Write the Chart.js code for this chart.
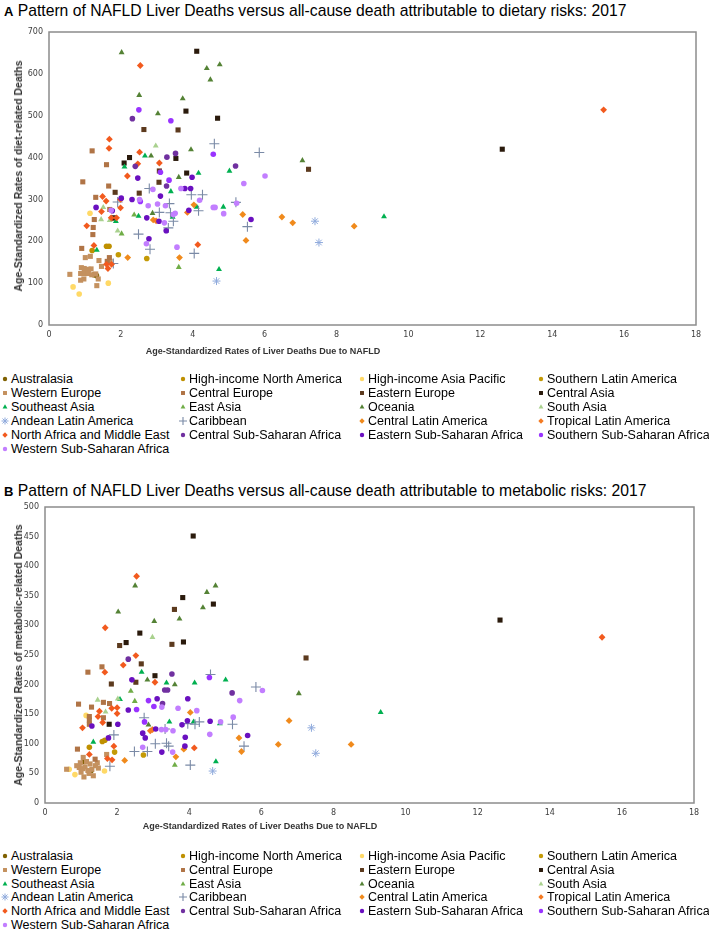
<!DOCTYPE html>
<html><head><meta charset="utf-8">
<script src="https://cdn.jsdelivr.net/npm/chart.js@4/dist/chart.umd.min.js"></script>
<style>
html,body{margin:0;padding:0;background:#fff;}
body{width:709px;height:930px;position:relative;overflow:hidden;font-family:'Liberation Sans',Arial,sans-serif;color:#000;}
.title{position:absolute;left:4px;font-size:15.7px;white-space:nowrap;line-height:18px;}
.title b{font-size:13px;}
.wrap{position:absolute;left:0;width:709px;}
.xt{position:absolute;font-size:9px;font-weight:bold;color:#333;white-space:nowrap;transform:translate(-50%,-50%);}
.yt{position:absolute;font-size:10.5px;font-weight:bold;color:#333;white-space:nowrap;transform:translate(-50%,-50%) rotate(-90deg);}
.li{position:absolute;font-size:12.5px;white-space:nowrap;display:flex;align-items:center;height:14px;line-height:14px;}
.li canvas{margin-right:1px;}
</style></head>
<body>
<div class="title" id="titleA" style="top:2px"><b>A</b> Pattern of NAFLD Liver Deaths versus all-cause death attributable to dietary risks: 2017</div>
<div class="wrap" style="top:0;height:365px"><canvas id="chartA" width="709" height="365"></canvas></div>
<div class="xt" style="left:263px;top:351px">Age-Standardized Rates of Liver Deaths Due to NAFLD</div>
<div class="yt" style="left:18px;top:176px">Age-Standardized Rates of diet-related Deaths</div>
<div id="legendA"></div>

<div class="title" id="titleB" style="top:482px"><b>B</b> Pattern of NAFLD Liver Deaths versus all-cause death attributable to metabolic risks: 2017</div>
<div class="wrap" style="top:470px;height:370px"><canvas id="chartB" width="709" height="370"></canvas></div>
<div class="xt" style="left:260px;top:826px">Age-Standardized Rates of Liver Deaths Due to NAFLD</div>
<div class="yt" style="left:18px;top:655px">Age-Standardized Rates of metabolic-related Deaths</div>
<div id="legendB"></div>

<script>
// ---------------- DATA ----------------
const regions = [
  "Australasia","High-income North America","High-income Asia Pacific","Southern Latin America",
  "Western Europe","Central Europe","Eastern Europe","Central Asia",
  "Southeast Asia","East Asia","Oceania","South Asia",
  "Andean Latin America","Caribbean","Central Latin America","Tropical Latin America",
  "North Africa and Middle East","Central Sub-Saharan Africa","Eastern Sub-Saharan Africa","Southern Sub-Saharan Africa",
  "Western Sub-Saharan Africa"
];

const xTicks = [0,2,4,6,8,10,12,14,16,18];
const dietYTicks = [0,100,200,300,400,500,600,700];
const metabolicYTicks = [0,50,100,150,200,250,300,350,400,450,500];

// [NAFLD liver death rate, diet-related death rate] per country, by region
const dietPoints = [
  [[1.32,118],[1.25,120]],
  [[1.20,178],[1.60,188],[1.67,188]],
  [[0.67,91],[0.84,74],[1.14,267],[1.65,100]],
  [[1.93,168],[2.72,159]],
  [[1.01,161],[1.15,164],[1.39,154],[1.70,152],[1.46,140],[0.58,121],[0.90,137],[0.98,135],[1.10,133],[1.17,134],[0.88,123],[1.00,123],[1.09,123],[1.19,120],[1.30,122],[0.88,107],[1.37,110],[1.33,94],[0.97,110]],
  [[1.20,416],[1.60,383],[0.94,342],[1.66,332],[1.30,305],[1.69,276],[1.76,255],[1.26,252],[1.23,233],[1.22,216],[0.91,183],[1.68,161],[1.62,152]],
  [[2.64,467],[3.59,466],[3.07,368],[3.06,341],[2.51,315],[1.84,317],[7.22,372]],
  [[4.11,654],[3.81,511],[4.69,494],[2.24,400],[2.09,387],[3.53,398],[3.83,363],[1.79,256],[12.61,420]],
  [[2.10,378],[2.67,404],[4.16,363],[3.39,319],[5.02,368],[4.85,282],[4.11,282],[2.49,260],[3.44,258],[4.73,133],[1.86,248],[1.33,179],[9.32,259]],
  [[2.37,263],[3.61,138],[2.02,218]],
  [[2.02,651],[2.51,549],[3.03,505],[3.72,541],[3.95,419],[4.39,613],[4.49,586],[4.75,622],[2.88,267],[2.84,404],[3.61,353],[7.05,393]],
  [[2.97,428],[1.51,281],[1.45,252],[1.69,250],[1.91,225]],
  [[4.66,105],[7.40,248],[7.51,197]],
  [[4.60,433],[5.85,412],[2.79,326],[3.96,311],[4.27,311],[1.91,294],[3.07,269],[3.35,290],[3.38,268],[4.16,273],[3.46,248],[3.32,232],[2.49,217],[2.81,181],[4.04,171],[5.20,293],[5.52,235],[1.79,147]],
  [[5.39,264],[5.48,202],[6.48,258],[6.78,244],[8.49,236],[3.63,161],[2.19,161],[4.03,287],[2.90,251]],
  [[2.98,249],[3.85,269]],
  [[2.54,620],[1.68,444],[1.67,422],[2.52,413],[2.47,385],[3.07,387],[2.18,356],[1.49,307],[1.59,296],[1.46,271],[1.99,280],[1.99,300],[1.88,256],[1.73,256],[1.05,237],[1.25,190],[1.60,145],[1.74,145],[1.64,135],[4.14,192],[15.43,514]],
  [[2.32,493],[3.52,410],[3.28,401],[2.40,379],[5.19,380],[3.27,332]],
  [[2.47,351],[3.10,308],[2.31,300],[2.01,303],[1.76,273],[2.72,256],[3.06,248],[3.26,225],[2.78,206],[3.78,326],[3.94,326],[3.98,353],[3.89,274],[5.62,252],[1.31,281]],
  [[2.50,514],[3.39,488],[4.57,408],[3.10,365],[3.34,346],[2.54,295]],
  [[3.67,326],[2.89,324],[2.76,285],[3.02,289],[3.24,285],[3.51,267],[3.46,264],[3.21,244],[2.71,194],[3.56,186],[4.19,298],[4.57,281],[4.62,281],[4.86,266],[5.22,291],[5.42,338],[6.01,356],[1.73,274],[2.52,300]]
];

// [NAFLD liver death rate, metabolic-related death rate] per country, by region
const metabolicPoints = [
  [[1.09,70],[1.28,55]],
  [[1.23,94],[1.59,104],[1.66,106]],
  [[0.67,57],[0.83,48],[1.14,148],[1.65,54]],
  [[1.93,86],[2.73,81]],
  [[1.06,77],[0.60,57],[0.95,60],[1.08,44],[1.34,46],[1.25,66],[1.11,61],[1.48,59],[1.19,55],[1.00,52],[0.88,63],[1.15,70],[1.40,63],[1.30,57],[0.98,68],[1.22,50],[1.05,58],[1.45,68],[1.71,82]],
  [[1.19,221],[1.58,230],[0.93,167],[1.62,170],[1.29,162],[1.79,168],[1.62,144],[1.23,146],[1.23,140],[1.23,133],[0.90,91],[1.39,74]],
  [[2.07,266],[3.59,327],[2.67,235],[2.52,204],[1.84,201],[7.24,245],[3.52,268]],
  [[4.11,451],[3.82,347],[4.67,336],[2.63,287],[2.25,271],[3.84,272],[3.05,215],[1.78,133],[12.62,309]],
  [[2.68,221],[3.37,203],[4.15,203],[5.01,208],[4.12,137],[4.85,134],[1.34,103],[4.74,70],[9.31,153],[2.08,175],[3.45,137]],
  [[2.38,189],[3.60,64],[2.49,172]],
  [[2.50,367],[2.03,323],[4.73,367],[4.49,356],[4.38,330],[3.03,307],[3.73,311],[2.84,208],[3.60,200],[2.87,132],[7.04,185]],
  [[2.98,280],[1.46,174],[1.68,154],[2.02,176]],
  [[4.65,54],[7.39,127],[7.51,84]],
  [[4.59,217],[5.85,196],[2.75,144],[3.33,125],[3.96,134],[4.16,133],[4.28,137],[5.20,133],[3.06,100],[3.37,101],[3.43,96],[2.48,87],[2.84,87],[4.03,64],[5.52,96],[1.91,115],[1.80,62]],
  [[2.21,72],[3.63,78],[5.38,110],[5.45,87],[6.77,139],[6.47,99],[8.49,99],[4.03,153],[3.85,91]],
  [[2.92,122],[2.98,124]],
  [[2.54,383],[1.67,296],[2.52,249],[2.17,233],[1.66,221],[1.51,155],[2.00,161],[2.00,151],[1.47,146],[1.60,136],[1.04,127],[1.91,96],[1.23,82],[1.73,75],[3.05,204],[1.86,73],[4.14,93],[15.45,280],[1.85,160]],
  [[2.31,243],[3.52,218],[3.32,191],[3.40,191],[5.19,186],[3.26,168]],
  [[2.41,208],[3.11,176],[3.96,176],[2.31,157],[1.30,130],[2.02,133],[2.71,118],[2.78,110],[3.07,125],[3.80,132],[3.95,139],[4.58,138],[3.89,111],[3.24,86],[5.62,114],[1.76,110],[3.88,96]],
  [[4.56,212],[2.87,173],[2.54,158],[3.02,163],[2.76,137]],
  [[3.24,162],[3.69,160],[4.21,156],[3.23,124],[3.35,124],[3.55,122],[4.87,137],[3.54,86],[2.71,94],[6.03,190],[5.40,173],[5.22,145],[4.57,116]]
];

// ---------------- STYLES ----------------
const regionColors = [
  "#7f6000","#bf9000","#ffd966","#c49a06",
  "#c4915f","#b07446","#5c3a1e","#2a1a0c",
  "#00b050","#70ad47","#548235","#a9d18e",
  "#8faadc","#7a8aa6","#f08a1c","#f47a22",
  "#f25a1e","#7030a0","#6a10c0","#9933ff",
  "#c27eff"
];
const regionShapes = [
  "circle","circle","circle","circle",
  "rect","rect","rect","rect",
  "triangle","triangle","triangle","triangle",
  "star","cross","rectRot","rectRot",
  "rectRot","circle","circle","circle",
  "circle"
];
const shapeRadius = {circle:2.8, rect:3.6, triangle:3.4, star:4, cross:5, rectRot:3.4};
const shapeBorder = {circle:0, rect:0, triangle:0, star:1, cross:1.1, rectRot:0};
const legendRadius = {circle:2.2, rect:2.8, triangle:2.8, star:3.5, cross:4, rectRot:2.7};

const tickFont = {family:"'DejaVu Sans', sans-serif", size:8};

const framePlugin = {
  id:'frame',
  beforeDatasetsDraw(chart){
    const {ctx, chartArea:a} = chart;
    ctx.save();
    ctx.strokeStyle = '#8c8c8c';
    ctx.lineWidth = 1.5;
    ctx.strokeRect(a.left, a.top, a.right - a.left, a.bottom - a.top);
    ctx.restore();
  }
};

function makeChart(id, points, yTicks, yAxisWidth, padding){
  const datasets = regions.map((name, i) => ({
    label: name,
    data: points[i].map(p => ({x:p[0], y:p[1]})),
    pointStyle: regionShapes[i],
    pointRadius: shapeRadius[regionShapes[i]],
    pointBorderWidth: shapeBorder[regionShapes[i]],
    backgroundColor: regionColors[i],
    borderColor: regionColors[i],
    showLine: false,
    order: regions.length - i
  }));
  return new Chart(document.getElementById(id), {
    type: 'scatter',
    data: {datasets},
    options: {
      responsive: false,
      animation: false,
      events: [],
      layout: {padding},
      plugins: {legend:{display:false}, tooltip:{enabled:false}, title:{display:false}},
      scales: {
        x: {
          type:'linear', min:xTicks[0], max:xTicks[xTicks.length-1],
          afterBuildTicks: s => { s.ticks = xTicks.map(v => ({value:v})); },
          afterFit: s => { s.height = 20; },
          grid:{display:false, drawTicks:false}, border:{display:false},
          ticks:{font:tickFont, color:'#404040', padding:5, maxRotation:0}
        },
        y: {
          type:'linear', min:yTicks[0], max:yTicks[yTicks.length-1],
          afterBuildTicks: s => { s.ticks = yTicks.map(v => ({value:v})); },
          afterFit: s => { s.width = yAxisWidth; },
          grid:{display:false, drawTicks:false}, border:{display:false},
          ticks:{font:tickFont, color:'#404040', padding:6}
        }
      }
    },
    plugins: [framePlugin]
  });
}

makeChart('chartA', dietPoints, dietYTicks, 49, {top:32, right:13, bottom:20, left:0});
makeChart('chartB', metabolicPoints, metabolicYTicks, 45, {top:37, right:15, bottom:17, left:0});

function buildLegend(containerId, firstRowY, rowStep){
  const box = document.getElementById(containerId);
  const colLeft = [0, 178, 357, 536];
  const drawPoint = Chart.helpers && Chart.helpers.drawPoint;
  regions.forEach((name, i) => {
    const r = Math.floor(i / 4), c = i % 4;
    const item = document.createElement('div');
    item.className = 'li';
    item.style.left = colLeft[c] + 'px';
    item.style.top = (firstRowY + r * rowStep - 7) + 'px';
    const cv = document.createElement('canvas');
    cv.width = 10; cv.height = 10;
    const ctx = cv.getContext('2d');
    const shape = regionShapes[i];
    ctx.fillStyle = regionColors[i];
    ctx.strokeStyle = regionColors[i];
    ctx.lineWidth = shapeBorder[shape] || 1;
    if (drawPoint) {
      drawPoint(ctx, {pointStyle:shape, radius:legendRadius[shape], borderWidth:shapeBorder[shape], rotation:0}, 5, 5);
    } else {
      ctx.beginPath(); ctx.arc(5,5,2.2,0,Math.PI*2); ctx.fill();
    }
    const t = document.createElement('span');
    t.textContent = name;
    item.appendChild(cv);
    item.appendChild(t);
    box.appendChild(item);
  });
}
buildLegend('legendA', 379, 14);
buildLegend('legendB', 856, 13.8);
</script>
</body></html>
